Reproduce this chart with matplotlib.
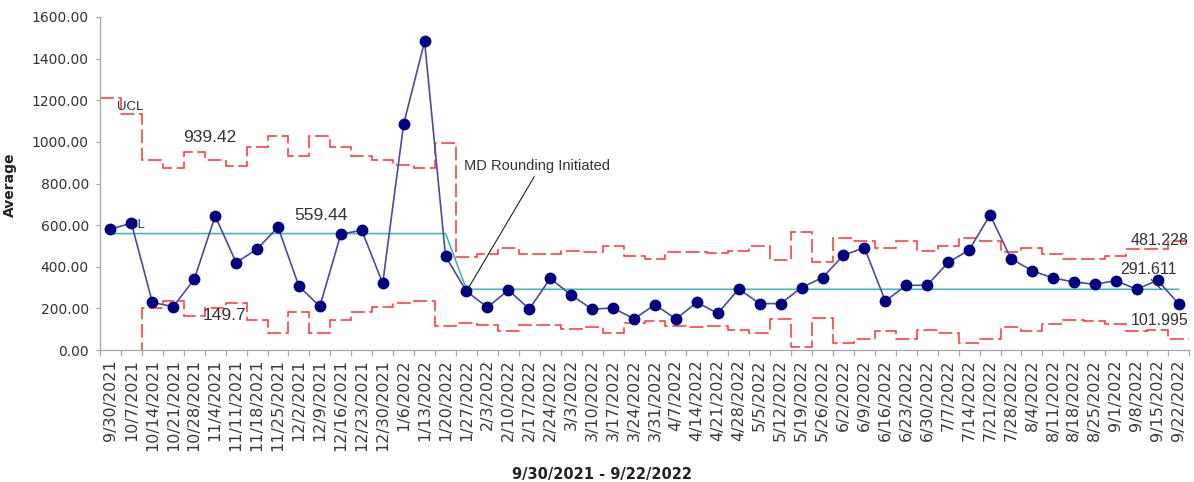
import matplotlib
matplotlib.use("Agg")
import matplotlib.pyplot as plt
import numpy as np

# ---------------- data ----------------
dates = ["9/30/2021", "10/7/2021", "10/14/2021", "10/21/2021", "10/28/2021", "11/4/2021",
         "11/11/2021", "11/18/2021", "11/25/2021", "12/2/2021", "12/9/2021", "12/16/2021",
         "12/23/2021", "12/30/2021", "1/6/2022", "1/13/2022", "1/20/2022", "1/27/2022",
         "2/3/2022", "2/10/2022", "2/17/2022", "2/24/2022", "3/3/2022", "3/10/2022",
         "3/17/2022", "3/24/2022", "3/31/2022", "4/7/2022", "4/14/2022", "4/21/2022",
         "4/28/2022", "5/5/2022", "5/12/2022", "5/19/2022", "5/26/2022", "6/2/2022",
         "6/9/2022", "6/16/2022", "6/23/2022", "6/30/2022", "7/7/2022", "7/14/2022",
         "7/21/2022", "7/28/2022", "8/4/2022", "8/11/2022", "8/18/2022", "8/25/2022",
         "9/1/2022", "9/8/2022", "9/15/2022", "9/22/2022"]

average = [581, 609, 229, 208, 340, 644, 420, 485, 590, 306,
           210, 557, 575, 320, 1086, 1483, 450, 282, 205, 288,
           197, 344, 264, 196, 202, 149, 218, 149, 229, 176,
           293, 223, 223, 300, 348, 455, 492, 235, 311, 311,
           421, 480, 649, 439, 381, 346, 327, 316, 333, 292,
           335, 223]

cl_phase1 = 559.44
cl_phase2 = 291.611
phase1_count = 17
centre = [cl_phase1] * phase1_count + [cl_phase2] * (len(dates) - phase1_count)

ucl = [1212, 1133, 913, 873, 950, 913, 886, 974, 1030, 934,
       1030, 974, 934, 913, 889, 876, 996, 448, 461, 489,
       461, 461, 476, 473, 501, 452, 436, 469, 473, 468,
       477, 501, 432, 566, 424, 540, 525, 489, 525, 477,
       500, 540, 525, 473, 489, 460, 437, 437, 453, 485,
       485, 525]

lcl = [-93, -14, 203, 237, 163, 203, 227, 144, 80, 184,
       80, 144, 184, 205, 227, 237, 117, 131, 120, 93,
       120, 120, 99, 112, 80, 131, 139, 117, 112, 117,
       96, 80, 147, 16, 152, 35, 51, 91, 51, 96,
       83, 35, 51, 109, 91, 125, 144, 139, 125, 91,
       96, 53]

yticks = [0, 200, 400, 600, 800, 1000, 1200, 1400, 1600]

# ---------------- figure ----------------
W, H = 1194, 482
fig = plt.figure(figsize=(W / 100, H / 100), dpi=100)
ax = fig.add_axes([100 / W, 1 - 350 / H, 1089 / W, 333 / H])

x = np.arange(len(dates))
edges = np.arange(len(dates) + 1) - 0.5

red = "#FF3030"
dash = (0, (9, 3))
ax.stairs(ucl, edges, baseline=None, color=red, lw=1.1, linestyle=dash, zorder=2)
ax.stairs(lcl, edges, baseline=None, color=red, lw=1.1, linestyle=dash, zorder=2)

ax.plot(x, centre, color="#45B5B5", lw=1.2, zorder=3)
ax.plot(x, average, color="#4A4AA5", lw=1.2, marker="o", markersize=7.5,
        markerfacecolor="#000080", markeredgecolor="#000080", zorder=4)

ax.set_xlim(-0.5, len(dates) - 0.5)
ax.set_ylim(0, 1600)

txtc = "#333333"
ax.set_yticks(yticks)
ax.set_yticklabels([f"{v:.2f}" for v in yticks], fontsize=10, color=txtc,
                   family="DejaVu Sans")
ax.set_xticks(x)
ax.set_xticklabels(dates, rotation=90, fontsize=11.5, color="#3a3a3a", family="DejaVu Sans")
ax.set_xticks(edges, minor=True)
ax.tick_params(axis="x", which="major", length=0, pad=6.5)
ax.tick_params(axis="x", which="minor", length=4.5, color="#A6A6A6", width=0.9)
ax.tick_params(axis="y", length=3, color="#A6A6A6", width=0.9, pad=5)

for s in ("top", "right"):
    ax.spines[s].set_visible(False)
for s in ("left", "bottom"):
    ax.spines[s].set_color("#A6A6A6")
    ax.spines[s].set_linewidth(0.9)

ax.set_ylabel("Average", fontsize=10, fontweight="bold", color="#222222")
ax.yaxis.set_label_coords(-0.0762, 0.495)
ax.set_xlabel("9/30/2021 - 9/22/2022", fontsize=10.5, fontweight="bold", color="#222222")
ax.xaxis.set_label_coords(0.4607, -0.375)
ax.xaxis.label.set_va("center")

lab = dict(color=txtc, family="Liberation Sans", ha="center", va="center", zorder=5)
ax.text(0.96, 1168, "UCL", fontsize=9.5, **lab)
ax.text(1.24, 601, "CL", fontsize=9.5, **{**lab, "zorder": 3.5})
ax.text(4.73, 1019, "939.42", fontsize=12.5, **lab)
ax.text(10.05, 644, "559.44", fontsize=12.5, **lab)
ax.text(5.42, 168, "149.7", fontsize=12.5, **lab)
ax.text(50.1, 524, "481.228", fontsize=11.5, **lab)
ax.text(50.12, 141, "101.995", fontsize=11.5, **lab)
ax.annotate("291.611", xy=(50.17, cl_phase2), xytext=(49.56, 388), fontsize=11.5,
            color=txtc, family="Liberation Sans", ha="center", va="center", zorder=5,
            arrowprops=dict(arrowstyle="-", color="#333333", lw=0.8, relpos=(0.5, 0),
                            shrinkA=0, shrinkB=0))

ax.annotate("MD Rounding Initiated", xy=(17, average[17]), xytext=(20.35, 886),
            fontsize=10.5, color=txtc, family="Liberation Sans", ha="center", va="center",
            zorder=5,
            arrowprops=dict(arrowstyle="-", color="#222222", lw=0.8, relpos=(0.5, 0),
                            shrinkA=1, shrinkB=0))

fig.savefig("out.png", dpi=100)
